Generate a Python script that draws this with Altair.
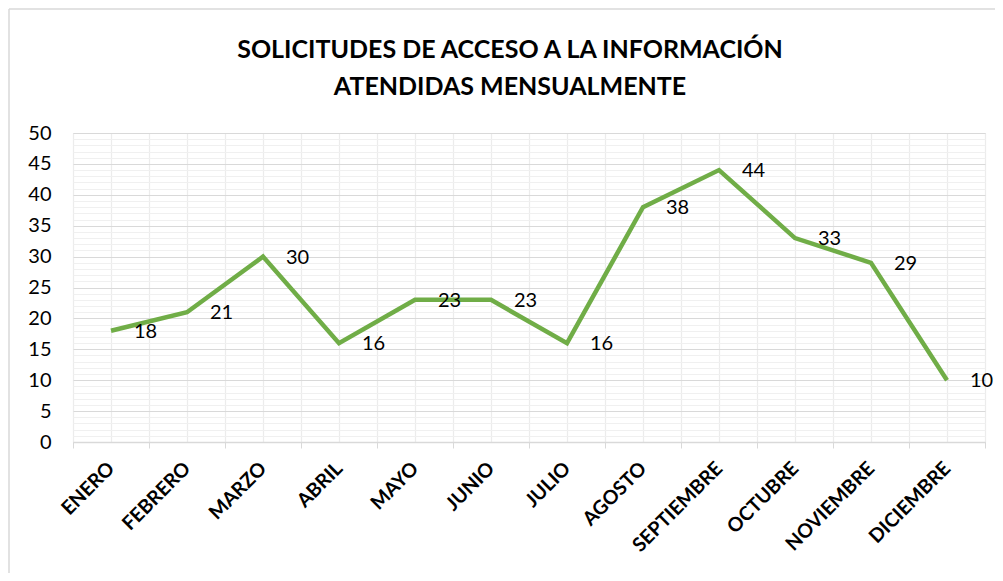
import altair as alt
import pandas as pd

months = ["ENERO", "FEBRERO", "MARZO", "ABRIL", "MAYO", "JUNIO", "JULIO",
          "AGOSTO", "SEPTIEMBRE", "OCTUBRE", "NOVIEMBRE", "DICIEMBRE"]
values = [18, 21, 30, 16, 23, 23, 16, 38, 44, 33, 29, 10]
title_lines = ["SOLICITUDES DE ACCESO A LA INFORMACIÓN", "ATENDIDAS MENSUALMENTE"]

df = pd.DataFrame({"mes": months, "valor": values, "pos": [i + 0.5 for i in range(len(months))]})

FONT = "Lato"
W, H = 912, 309
months_js = "[" + ",".join("'" + m + "'" for m in months) + "]"

x_axis = alt.Axis(
    values=[i * 0.5 for i in range(2 * len(months) + 1)],
    labelExpr=f"(datum.value % 1 == 0.5) ? {months_js}[floor(datum.value)] : ''",
    labelAngle=-45, labelAlign="right", labelBaseline="middle",
    labelFont=FONT, labelFontSize=19.5, labelFontWeight="bold", labelColor="#000000",
    labelPadding=17, labelOverlap=False, labelFlush=False, labelLimit=300,
    tickColor="#d9d9d9", tickSize=6,
    tickOpacity={"condition": {"test": "datum.value % 1 == 0", "value": 1}, "value": 0},
    domainColor="#d9d9d9", domainWidth=1.5,
    gridColor="#ececec", gridWidth=1.2,
    title=None,
)
y_axis = alt.Axis(
    values=list(range(0, 51)),
    labelExpr="datum.value % 5 == 0 ? datum.label : ''",
    labelFont=FONT, labelFontSize=20, labelColor="#000000", labelPadding=22,
    labelOverlap=False,
    ticks=False, domain=False,
    gridColor={"condition": {"test": "datum.value % 5 == 0", "value": "#d9d9d9"}, "value": "#f0f0f0"},
    gridWidth=1.2,
    title=None,
)

base = alt.Chart(df).encode(
    x=alt.X("pos:Q", scale=alt.Scale(domain=[0, 12], nice=False, zero=False), axis=x_axis),
    y=alt.Y("valor:Q", scale=alt.Scale(domain=[0, 50], nice=False), axis=y_axis),
)
line = base.mark_line(color="#70AD47", strokeWidth=4.5)
labels = base.mark_text(align="left", baseline="middle", dx=23, dy=1, font=FONT, fontSize=20,
                        color="#000000").encode(text="valor:Q")
border_top = alt.Chart(pd.DataFrame({"a": [0]})).mark_rule(color="#d9d9d9", strokeWidth=1.5).encode(
    x=alt.value(-64), x2=alt.value(W + 30), y=alt.value(-124)
)
border_left = alt.Chart(pd.DataFrame({"a": [0]})).mark_rule(color="#d9d9d9", strokeWidth=1.5).encode(
    x=alt.value(-64), y=alt.value(-124), y2=alt.value(H + 150)
)

chart = alt.layer(line, labels, border_top, border_left).properties(
    width=W, height=H,
    title=alt.TitleParams(title_lines, font=FONT, fontSize=25, fontWeight="bold", color="#000000",
                          anchor="middle", dx=-19, offset=-92, lineHeight=37),
    padding={"left": 65, "top": 125, "right": 10, "bottom": 131},
    autosize=alt.AutoSizeParams(type="none"),
).configure_view(stroke=None).configure(background="#ffffff")

chart.save("out.html", embed_options={"renderer": "svg", "actions": False})
